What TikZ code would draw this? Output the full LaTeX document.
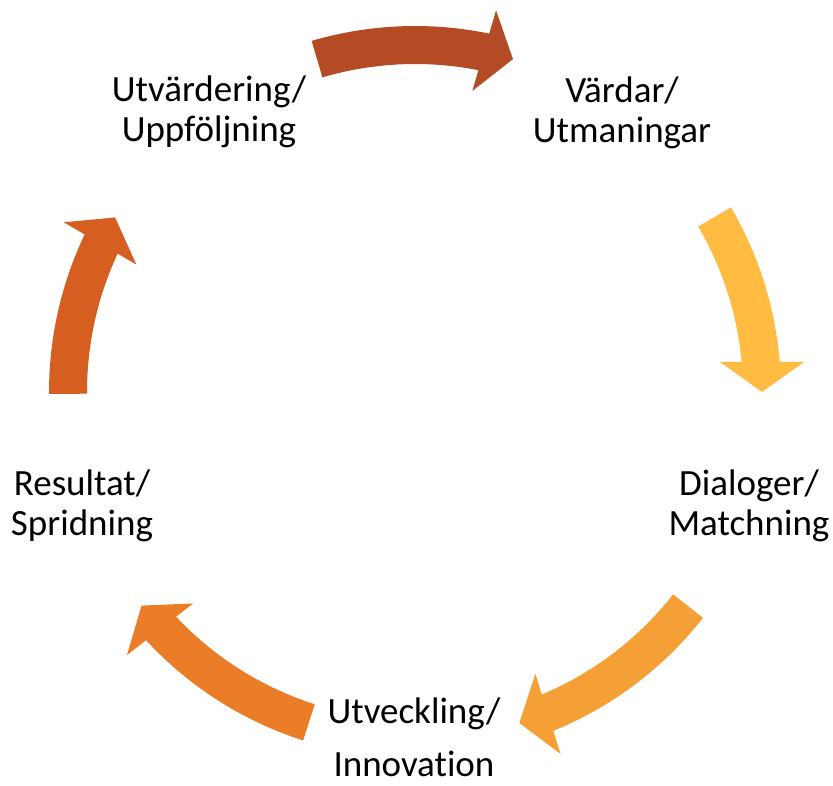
\documentclass[tikz,border=0pt]{standalone}
\usepackage{fontspec}
\setmainfont{Carlito}[Ligatures=NoCommon]
\definecolor{pilA}{HTML}{B44B24}
\definecolor{pilB}{HTML}{FFBB42}
\definecolor{pilC}{HTML}{F4A036}
\definecolor{pilD}{HTML}{EC7D28}
\definecolor{pilE}{HTML}{D55E20}
\begin{document}
\begin{tikzpicture}[x=1pt,y=1pt]
    \tikzset{etikett/.style={align=center,inner sep=0pt,font=\fontsize{37}{40}\selectfont}};
    \useasboundingbox (0,0) rectangle (833,785);
    \node[etikett] (vardar) at (622,672) {Värdar/\\Utmaningar};
    \node[etikett] (dialoger) at (749,279) {Dialoger/\\Matchning};
    \node[etikett,font=\fontsize{37}{53}\selectfont] (utveckling) at (414,48) {Utveckling/\\Innovation};
    \node[etikett] (resultat) at (82,279) {Resultat/\\Spridning};
    \node[etikett] (utvardering) at (209,673) {Utvärdering/\\Uppföljning};
    \begin{scope}[shift={(415,393)}]
        \foreach \a/\b/\f in {106.4/73.6/pilA, 30.3/0/pilB, -38.1/-72.5/pilC, -107.8/-142/pilD, 180.3/149.8/pilE}{
            \pgfmathsetmacro{\s}{\b+4.5}
            \fill[\f] (\a:366) arc[start angle=\a, end angle=\s, radius=366] -- (\s:328) arc[start angle=\s, end angle=\a, radius=328] -- cycle;
            \fill[\f] (\b:347) -- ([shift={(\b+90:30)}]\b:389) -- ([shift={(\b+90:30)}]\b:305) -- cycle;
        }
    \end{scope}
\end{tikzpicture}
\end{document}
